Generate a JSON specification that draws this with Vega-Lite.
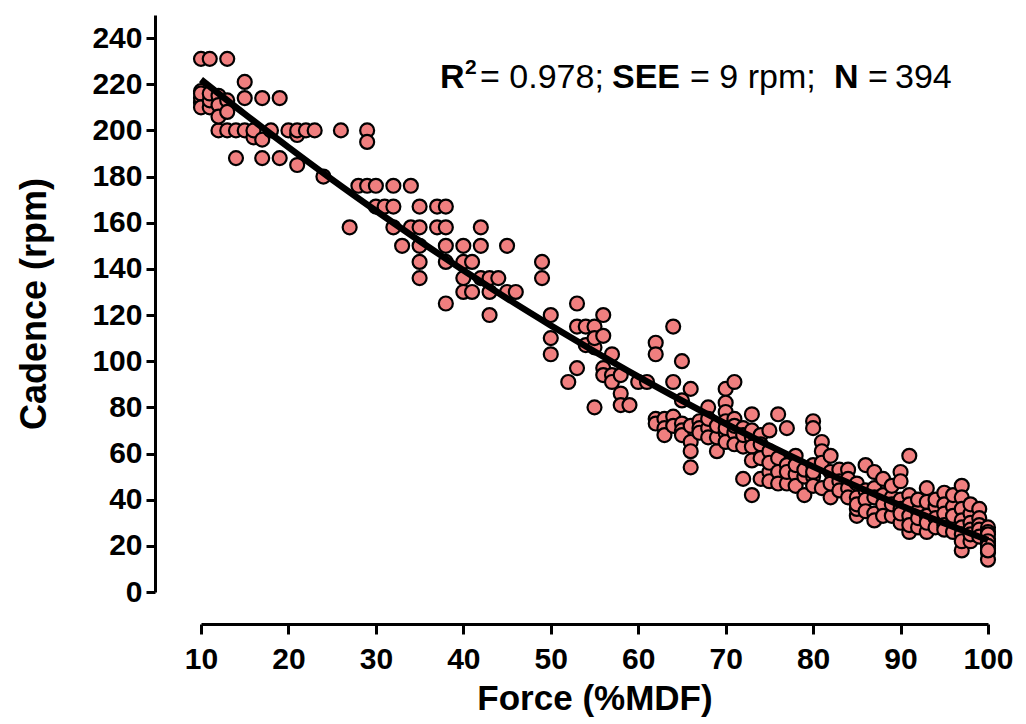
{
  "$schema": "https://vega.github.io/schema/vega-lite/v6.json",
  "width": 787,
  "height": 577,
  "autosize": {"type": "none"},
  "padding": {"left": 201, "top": 15, "right": 38, "bottom": 132},
  "background": "white",
  "config": {
    "view": {"stroke": null},
    "font": "Liberation Sans",
    "axis": {
      "grid": false,
      "domainColor": "black",
      "domainWidth": 3,
      "tickColor": "black",
      "tickWidth": 3,
      "labelColor": "black",
      "labelFont": "Liberation Sans",
      "labelFontWeight": "bold",
      "labelFontSize": 30,
      "labelFlush": false,
      "labelOverlap": false,
      "titleFont": "Liberation Sans",
      "titleFontWeight": "bold",
      "titleFontSize": 35,
      "titleColor": "black"
    }
  },
  "datasets": {
    "pts": [
      {"force":10,"cadence":231},{"force":10,"cadence":217},{"force":10,"cadence":212},{"force":10,"cadence":214},{"force":10,"cadence":216},{"force":10,"cadence":210},
      {"force":11,"cadence":231},{"force":11,"cadence":210},{"force":11,"cadence":213},{"force":11,"cadence":216},
      {"force":12,"cadence":215},{"force":12,"cadence":211},{"force":12,"cadence":200},{"force":12,"cadence":206},
      {"force":13,"cadence":231},{"force":13,"cadence":213},{"force":13,"cadence":208},{"force":13,"cadence":200},
      {"force":14,"cadence":200},{"force":14,"cadence":188},
      {"force":15,"cadence":221},{"force":15,"cadence":214},{"force":15,"cadence":200},
      {"force":16,"cadence":197},{"force":16,"cadence":200},
      {"force":17,"cadence":214},{"force":17,"cadence":188},{"force":17,"cadence":196},
      {"force":18,"cadence":200},
      {"force":19,"cadence":214},{"force":19,"cadence":188},
      {"force":20,"cadence":200},
      {"force":21,"cadence":198},{"force":21,"cadence":185},{"force":21,"cadence":200},
      {"force":22,"cadence":200},{"force":23,"cadence":200},{"force":24,"cadence":180},
      {"force":26,"cadence":200},{"force":27,"cadence":158},{"force":28,"cadence":176},
      {"force":29,"cadence":200},{"force":29,"cadence":195},{"force":29,"cadence":176},
      {"force":30,"cadence":176},{"force":30,"cadence":167},
      {"force":31,"cadence":167},
      {"force":32,"cadence":176},{"force":32,"cadence":167},{"force":32,"cadence":158},
      {"force":33,"cadence":150},
      {"force":34,"cadence":176},{"force":34,"cadence":158},
      {"force":35,"cadence":167},{"force":35,"cadence":158},{"force":35,"cadence":150},{"force":35,"cadence":143},{"force":35,"cadence":136},
      {"force":37,"cadence":167},{"force":37,"cadence":158},
      {"force":38,"cadence":167},{"force":38,"cadence":158},{"force":38,"cadence":150},{"force":38,"cadence":143},{"force":38,"cadence":125},
      {"force":40,"cadence":150},{"force":40,"cadence":143},{"force":40,"cadence":136},{"force":40,"cadence":130},
      {"force":41,"cadence":143},{"force":41,"cadence":130},
      {"force":42,"cadence":158},{"force":42,"cadence":150},{"force":42,"cadence":136},
      {"force":43,"cadence":136},{"force":43,"cadence":130},{"force":43,"cadence":120},
      {"force":44,"cadence":136},
      {"force":45,"cadence":150},{"force":45,"cadence":130},
      {"force":46,"cadence":130},
      {"force":49,"cadence":143},{"force":49,"cadence":136},
      {"force":50,"cadence":120},{"force":50,"cadence":110},{"force":50,"cadence":103},
      {"force":52,"cadence":91},
      {"force":53,"cadence":125},{"force":53,"cadence":115},{"force":53,"cadence":97},
      {"force":54,"cadence":115},{"force":54,"cadence":107},
      {"force":55,"cadence":115},{"force":55,"cadence":106},{"force":55,"cadence":110},{"force":55,"cadence":80},
      {"force":56,"cadence":120},{"force":56,"cadence":111},{"force":56,"cadence":97},{"force":56,"cadence":94},
      {"force":57,"cadence":103},{"force":57,"cadence":94},{"force":57,"cadence":91},
      {"force":58,"cadence":94},{"force":58,"cadence":86},{"force":58,"cadence":81},
      {"force":59,"cadence":81},{"force":60,"cadence":91},{"force":61,"cadence":91},
      {"force":62,"cadence":108},{"force":62,"cadence":103},{"force":62,"cadence":75},{"force":62,"cadence":73},
      {"force":63,"cadence":75},{"force":63,"cadence":71},{"force":63,"cadence":68},
      {"force":64,"cadence":115},{"force":64,"cadence":91},{"force":64,"cadence":76},{"force":64,"cadence":72},
      {"force":65,"cadence":100},{"force":65,"cadence":83},{"force":65,"cadence":73},{"force":65,"cadence":70},{"force":65,"cadence":68},
      {"force":66,"cadence":88},{"force":66,"cadence":65},{"force":66,"cadence":61},{"force":66,"cadence":54},{"force":66,"cadence":72},
      {"force":67,"cadence":74},{"force":67,"cadence":71},{"force":67,"cadence":69},
      {"force":68,"cadence":80},{"force":68,"cadence":71},{"force":68,"cadence":67},{"force":68,"cadence":75},
      {"force":69,"cadence":61},{"force":69,"cadence":67},{"force":69,"cadence":72},
      {"force":70,"cadence":88},{"force":70,"cadence":82},{"force":70,"cadence":78},{"force":70,"cadence":74},{"force":70,"cadence":69},{"force":70,"cadence":65},{"force":70,"cadence":71},
      {"force":71,"cadence":91},{"force":71,"cadence":75},{"force":71,"cadence":69},{"force":71,"cadence":64},{"force":71,"cadence":72},
      {"force":72,"cadence":71},{"force":72,"cadence":63},{"force":72,"cadence":49},{"force":72,"cadence":68},
      {"force":73,"cadence":77},{"force":73,"cadence":67},{"force":73,"cadence":63},{"force":73,"cadence":57},{"force":73,"cadence":42},{"force":73,"cadence":70},
      {"force":74,"cadence":68},{"force":74,"cadence":49},{"force":74,"cadence":64},{"force":74,"cadence":58},
      {"force":75,"cadence":70},{"force":75,"cadence":61},{"force":75,"cadence":52},{"force":75,"cadence":48},{"force":75,"cadence":56},
      {"force":76,"cadence":77},{"force":76,"cadence":58},{"force":76,"cadence":52},{"force":76,"cadence":47},
      {"force":77,"cadence":71},{"force":77,"cadence":55},{"force":77,"cadence":47},{"force":77,"cadence":52},
      {"force":78,"cadence":59},{"force":78,"cadence":51},{"force":78,"cadence":55},{"force":78,"cadence":46},
      {"force":79,"cadence":50},{"force":79,"cadence":42},{"force":79,"cadence":53},
      {"force":80,"cadence":74},{"force":80,"cadence":71},{"force":80,"cadence":50},{"force":80,"cadence":55},{"force":80,"cadence":52},{"force":80,"cadence":46},
      {"force":81,"cadence":65},{"force":81,"cadence":61},{"force":81,"cadence":56},{"force":81,"cadence":45},
      {"force":82,"cadence":59},{"force":82,"cadence":41},{"force":82,"cadence":52},{"force":82,"cadence":47},
      {"force":83,"cadence":53},{"force":83,"cadence":48},{"force":83,"cadence":44},
      {"force":84,"cadence":53},{"force":84,"cadence":49},{"force":84,"cadence":45},{"force":84,"cadence":41},
      {"force":85,"cadence":41},{"force":85,"cadence":33},{"force":85,"cadence":47},{"force":85,"cadence":36},{"force":85,"cadence":38},
      {"force":86,"cadence":55},{"force":86,"cadence":44},{"force":86,"cadence":40},{"force":86,"cadence":35},
      {"force":87,"cadence":52},{"force":87,"cadence":45},{"force":87,"cadence":34},{"force":87,"cadence":31},{"force":87,"cadence":41},
      {"force":88,"cadence":49},{"force":88,"cadence":42},{"force":88,"cadence":38},{"force":88,"cadence":33},
      {"force":89,"cadence":41},{"force":89,"cadence":33},{"force":89,"cadence":46},{"force":89,"cadence":38},
      {"force":90,"cadence":52},{"force":90,"cadence":48},{"force":90,"cadence":30},{"force":90,"cadence":40},{"force":90,"cadence":36},{"force":90,"cadence":34},
      {"force":91,"cadence":59},{"force":91,"cadence":42},{"force":91,"cadence":26},{"force":91,"cadence":38},{"force":91,"cadence":33},{"force":91,"cadence":29},
      {"force":92,"cadence":35},{"force":92,"cadence":28},{"force":92,"cadence":40},{"force":92,"cadence":32},
      {"force":93,"cadence":45},{"force":93,"cadence":39},{"force":93,"cadence":26},{"force":93,"cadence":33},{"force":93,"cadence":30},
      {"force":94,"cadence":37},{"force":94,"cadence":40},{"force":94,"cadence":32},{"force":94,"cadence":28},
      {"force":95,"cadence":43},{"force":95,"cadence":38},{"force":95,"cadence":34},{"force":95,"cadence":29},{"force":95,"cadence":27},
      {"force":96,"cadence":37},{"force":96,"cadence":30},{"force":96,"cadence":42},{"force":96,"cadence":33},{"force":96,"cadence":26},
      {"force":97,"cadence":46},{"force":97,"cadence":41},{"force":97,"cadence":36},{"force":97,"cadence":18},{"force":97,"cadence":31},{"force":97,"cadence":28},{"force":97,"cadence":25},{"force":97,"cadence":22},
      {"force":98,"cadence":34},{"force":98,"cadence":30},{"force":98,"cadence":22},{"force":98,"cadence":38},{"force":98,"cadence":27},{"force":98,"cadence":25},
      {"force":99,"cadence":36},{"force":99,"cadence":32},{"force":99,"cadence":29},{"force":99,"cadence":27},{"force":99,"cadence":24},
      {"force":100,"cadence":28},{"force":100,"cadence":26},{"force":100,"cadence":23},{"force":100,"cadence":21},{"force":100,"cadence":19},{"force":100,"cadence":17},{"force":100,"cadence":14},{"force":100,"cadence":25},{"force":100,"cadence":22},{"force":100,"cadence":20},{"force":100,"cadence":18}
    ],
    "fit": [
      {"force":10,"cadence":222.0},{"force":15,"cadence":207.1},{"force":20,"cadence":192.7},{"force":25,"cadence":178.7},
      {"force":30,"cadence":165.2},{"force":35,"cadence":152.1},{"force":40,"cadence":139.4},{"force":45,"cadence":127.2},
      {"force":50,"cadence":115.5},{"force":55,"cadence":104.2},{"force":60,"cadence":93.3},{"force":65,"cadence":82.9},
      {"force":70,"cadence":72.9},{"force":75,"cadence":63.4},{"force":80,"cadence":54.3},{"force":85,"cadence":45.7},
      {"force":90,"cadence":37.5},{"force":95,"cadence":29.8},{"force":100,"cadence":22.5}
    ],
    "boldtext": [
      {"force":37.33,"cadence":218.5,"label":"R"},
      {"force":57.0,"cadence":218.5,"label":"SEE"},
      {"force":82.39,"cadence":218.5,"label":"N"}
    ],
    "normtext": [
      {"force":41.91,"cadence":218.5,"label":"= 0.978;"},
      {"force":65.92,"cadence":218.5,"label":"= 9 rpm;"},
      {"force":86.28,"cadence":218.5,"label":"="},
      {"force":89.37,"cadence":218.5,"label":"394"}
    ],
    "suptext": [
      {"force":40.19,"cadence":224.5,"label":"2"}
    ]
  },
  "encoding": {
    "x": {
      "field": "force",
      "type": "quantitative",
      "scale": {"domain": [10, 100], "nice": false, "zero": false},
      "axis": {
        "title": "Force (%MDF)",
        "values": [10, 20, 30, 40, 50, 60, 70, 80, 90, 100],
        "offset": 32,
        "tickSize": 10,
        "labelPadding": 10,
        "titlePadding": 7
      }
    },
    "y": {
      "field": "cadence",
      "type": "quantitative",
      "scale": {"domain": [0, 250], "nice": false},
      "axis": {
        "title": "Cadence (rpm)",
        "titleFontSize": 36,
        "values": [0, 20, 40, 60, 80, 100, 120, 140, 160, 180, 200, 220, 240],
        "offset": 46,
        "tickSize": 9,
        "labelPadding": 4,
        "titlePadding": 38
      }
    }
  },
  "layer": [
    {
      "data": {"name": "pts"},
      "mark": {"type": "circle", "size": 195, "fill": "#F07F7F", "stroke": "black", "strokeWidth": 2.2, "opacity": 1}
    },
    {
      "data": {"name": "fit"},
      "mark": {"type": "line", "color": "black", "strokeWidth": 6.5, "interpolate": "monotone"}
    },
    {
      "data": {"name": "boldtext"},
      "mark": {"type": "text", "align": "left", "baseline": "alphabetic", "fontSize": 34, "fontWeight": "bold", "font": "Liberation Sans", "color": "black"},
      "encoding": {"text": {"field": "label"}}
    },
    {
      "data": {"name": "normtext"},
      "mark": {"type": "text", "align": "left", "baseline": "alphabetic", "fontSize": 34, "fontWeight": "normal", "font": "Liberation Sans", "color": "black"},
      "encoding": {"text": {"field": "label"}}
    },
    {
      "data": {"name": "suptext"},
      "mark": {"type": "text", "align": "left", "baseline": "alphabetic", "fontSize": 21, "fontWeight": "bold", "font": "Liberation Sans", "color": "black"},
      "encoding": {"text": {"field": "label"}}
    }
  ]
}
